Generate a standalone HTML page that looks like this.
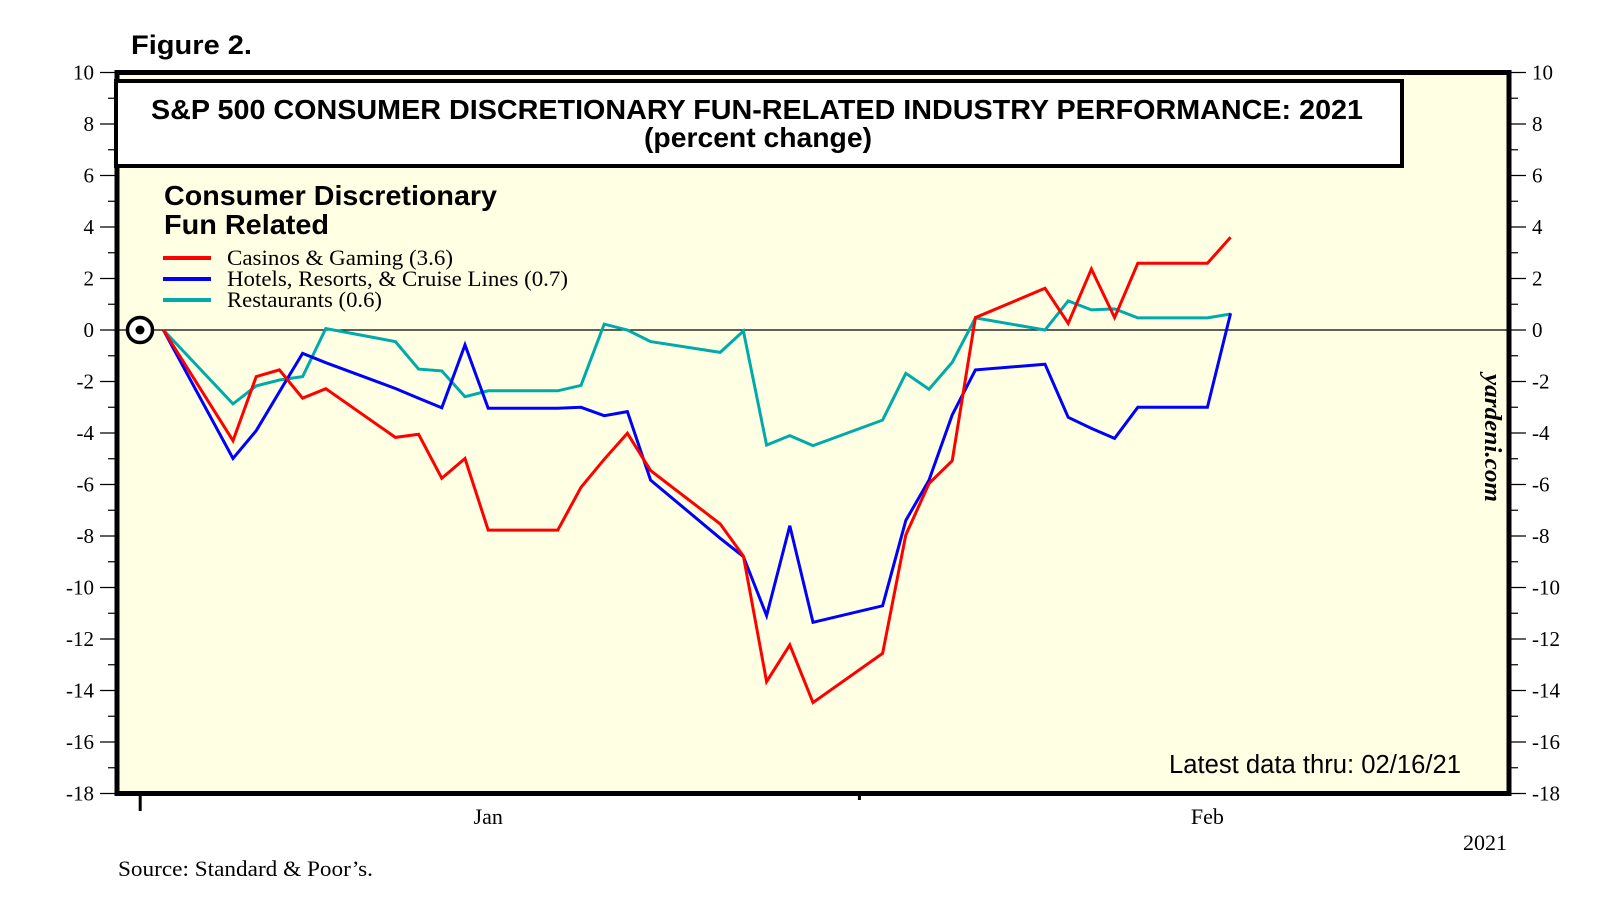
<!DOCTYPE html>
<html><head><meta charset="utf-8"><style>
html,body{margin:0;padding:0;background:#fff;}
svg{display:block;}
.ser{font-family:"Liberation Serif",serif;}
.san{font-family:"Liberation Sans",sans-serif;}
</style></head><body>
<svg id="chart" width="1610" height="918" viewBox="0 0 1610 918" xmlns="http://www.w3.org/2000/svg">
<text x="131" y="54" font-family="Liberation Sans, sans-serif" font-size="27" font-weight="bold" textLength="121" lengthAdjust="spacingAndGlyphs">Figure 2.</text>
<rect x="117" y="72.5" width="1392" height="721" fill="#FFFFE4"/>
<g id="ticks"></g>
<line x1="117" x2="1509" y1="330" y2="330" stroke="#000" stroke-width="1.2"/>
<g id="series"></g>
<rect x="117" y="72.5" width="1392" height="721" fill="none" stroke="#000" stroke-width="5"/>
<rect x="116" y="81" width="1286" height="85" fill="#fff" stroke="#000" stroke-width="4"/>
<text x="757" y="119" text-anchor="middle" font-family="Liberation Sans, sans-serif" font-size="28" font-weight="bold" textLength="1212" lengthAdjust="spacingAndGlyphs">S&amp;P 500 CONSUMER DISCRETIONARY FUN-RELATED INDUSTRY PERFORMANCE: 2021</text>
<text x="758" y="147" text-anchor="middle" font-family="Liberation Sans, sans-serif" font-size="28" font-weight="bold" textLength="228" lengthAdjust="spacingAndGlyphs">(percent change)</text>
<text x="164" y="205" font-family="Liberation Sans, sans-serif" font-size="28" font-weight="bold" textLength="333" lengthAdjust="spacingAndGlyphs">Consumer Discretionary</text>
<text x="164" y="234" font-family="Liberation Sans, sans-serif" font-size="28" font-weight="bold" textLength="165" lengthAdjust="spacingAndGlyphs">Fun Related</text>
<g>
<line x1="163" x2="211" y1="258" y2="258" stroke="#FF0000" stroke-width="4"/>
<text x="227" y="265" font-family="Liberation Serif, serif" font-size="22.5" textLength="226" lengthAdjust="spacingAndGlyphs">Casinos &amp; Gaming (3.6)</text>
<line x1="163" x2="211" y1="279" y2="279" stroke="#0000FF" stroke-width="4"/>
<text x="227" y="286" font-family="Liberation Serif, serif" font-size="22.5" textLength="341" lengthAdjust="spacingAndGlyphs">Hotels, Resorts, &amp; Cruise Lines (0.7)</text>
<line x1="163" x2="211" y1="300" y2="300" stroke="#00AAAA" stroke-width="4"/>
<text x="227" y="307" font-family="Liberation Serif, serif" font-size="22.5" textLength="155" lengthAdjust="spacingAndGlyphs">Restaurants (0.6)</text>
</g>
<circle cx="140" cy="330" r="12.5" fill="#fff" stroke="#000" stroke-width="3.5"/>
<circle cx="140" cy="330" r="4.5" fill="#000"/>
<text transform="translate(1485,438) rotate(90)" text-anchor="middle" font-family="Liberation Serif, serif" font-size="24" font-style="italic" font-weight="bold" textLength="128" lengthAdjust="spacingAndGlyphs">yardeni.com</text>
<text x="1461" y="773" text-anchor="end" font-family="Liberation Sans, sans-serif" font-size="25.5" textLength="292" lengthAdjust="spacingAndGlyphs">Latest data thru: 02/16/21</text>
<text x="1507" y="850" text-anchor="end" font-family="Liberation Serif, serif" font-size="22">2021</text>
<text x="118" y="876" font-family="Liberation Serif, serif" font-size="22" textLength="255" lengthAdjust="spacingAndGlyphs">Source: Standard &amp; Poor’s.</text>
<script>
const yTicks = [10,8,6,4,2,0,-2,-4,-6,-8,-10,-12,-14,-16,-18];
const monthLabels = ["Jan","Feb"];
const monthLabelDays = [15,46];
const days = [1,4,5,6,7,8,11,12,13,14,15,18,19,20,21,22,25,26,27,28,29,32,33,34,35,36,39,40,41,42,43,46,47];
const casinos = [0,-4.30,-1.81,-1.55,-2.65,-2.28,-4.17,-4.05,-5.76,-4.99,-7.77,-7.77,-6.11,-5.02,-4.01,-5.46,-7.53,-8.78,-13.66,-12.23,-14.47,-12.56,-7.96,-5.96,-5.08,0.48,1.62,0.26,2.37,0.48,2.59,2.59,3.6];
const hotels = [0,-4.99,-3.91,-2.4,-0.91,-1.27,-2.27,-2.65,-3.02,-0.58,-3.04,-3.04,-3.0,-3.33,-3.17,-5.83,-8.09,-8.80,-11.09,-7.60,-11.35,-10.71,-7.40,-5.83,-3.30,-1.55,-1.33,-3.39,-3.82,-4.21,-3.0,-3.0,0.65];
const restaurants = [0,-2.87,-2.17,-1.94,-1.81,0.06,-0.45,-1.52,-1.59,-2.59,-2.36,-2.36,-2.15,0.23,0,-0.45,-0.87,-0.04,-4.47,-4.10,-4.49,-3.50,-1.68,-2.30,-1.26,0.47,0.0,1.13,0.78,0.82,0.47,0.47,0.62];

const NS = "http://www.w3.org/2000/svg";
const X0=117, X1=1509, D0=-1, D1=59;
const Y0=72.5, Y1=793.5, V0=10, V1=-18;
function xs(d){return X0+(d-D0)/(D1-D0)*(X1-X0);}
function ys(v){return Y0+(v-V0)/(V1-V0)*(Y1-Y0);}
function mk(tag, attrs, parent){const e=document.createElementNS(NS,tag);for(const k in attrs)e.setAttribute(k,attrs[k]);parent.appendChild(e);return e;}
const tg=document.getElementById('ticks');
const sg=document.getElementById('series');
const SERIF='Liberation Serif, serif';
yTicks.forEach(v=>{
  const y=ys(v);
  let t=mk('line',{x1:100,x2:117,y1:y,y2:y,stroke:'#000','stroke-width':1.3},tg);
  
  
  t=mk('line',{x1:1509,x2:1526,y1:y,y2:y,stroke:'#000','stroke-width':1.3},tg);
  
  
  let l=mk('text',{x:94,y:y+7,'text-anchor':'end','font-size':21,'font-family':SERIF},tg);
  l.textContent=v;
  
  
  l=mk('text',{x:1532,y:y+7,'font-size':21,'font-family':SERIF},tg);
  l.textContent=v;
  
  
  if(v>V1){
    const ym=ys(v-1);
    t=mk('line',{x1:108,x2:117,y1:ym,y2:ym,stroke:'#000','stroke-width':1.2},tg);
    
    
    t=mk('line',{x1:1509,x2:1518,y1:ym,y2:ym,stroke:'#000','stroke-width':1.2},tg);
    
    
  }
});
let yt=mk('line',{x1:xs(0),x2:xs(0),y1:793,y2:811,stroke:'#000','stroke-width':3},tg);


let mt=mk('line',{x1:xs(31),x2:xs(31),y1:793,y2:800,stroke:'#000','stroke-width':3},tg);


monthLabels.forEach((m,i)=>{
  const t=mk('text',{x:xs(monthLabelDays[i]),y:824,'text-anchor':'middle','font-size':22,'font-family':SERIF},tg);
  t.textContent=m;
  
  
});
function line(vals,color,name){
  const pts=vals.map((v,i)=>xs(days[i]).toFixed(1)+','+ys(v).toFixed(1)).join(' ');
  const p=mk('polyline',{points:pts,fill:'none',stroke:color,'stroke-width':3,'stroke-linejoin':'miter'},sg);
  
  
}
line(restaurants,'#00AAAA','series-restaurants');
line(hotels,'#0000FF','series-hotels');
line(casinos,'#FF0000','series-casinos');
</script>
</svg>
</body></html>
